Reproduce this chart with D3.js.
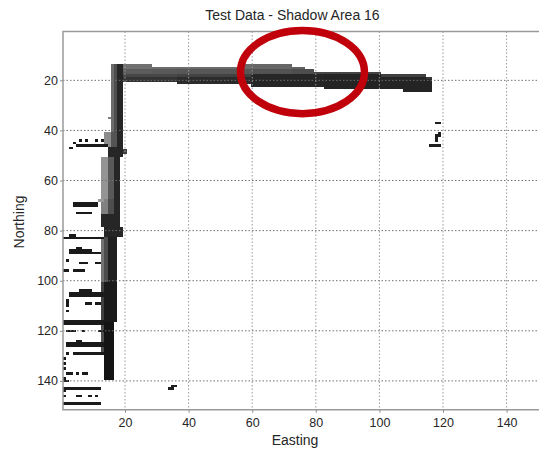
<!DOCTYPE html>
<html><head><meta charset="utf-8">
<script src="https://cdn.jsdelivr.net/npm/d3@7/dist/d3.min.js"></script>
<style>body{margin:0;background:#fff;overflow:hidden}</style>
</head><body><svg id="c" width="539" height="455"></svg>
<script>
// ---- data ----
const title = "Test Data - Shadow Area 16";
const xLabel = "Easting";
const yLabel = "Northing";
const xTicks = [20,40,60,80,100,120,140];
const yTicks = [20,40,60,80,100,120,140];
const xDomain = [0.5,150.5];
const yDomain = [0.5,151.5];
// runs: [rowStart,rowEnd,colStart,colEnd,intensity(0 black..1 white)]
const topBarRuns = [
 [14,15,16,28,0.44],[16,17,16,28,0.36],[18,18,16,28,0.28],[19,20,16,28,0.2],
 [15,15,29,36,0.42],[16,17,29,36,0.35],[18,18,29,36,0.28],[19,20,29,36,0.2],
 [15,15,37,55,0.42],[16,17,37,55,0.34],[18,18,37,55,0.26],[19,21,37,55,0.17],
 [14,15,56,59,0.42],[16,17,56,59,0.34],[18,18,56,59,0.25],[19,21,56,59,0.17],
 [14,15,60,72,0.40],[16,17,60,72,0.32],[18,22,60,72,0.15],
 [15,15,73,76,0.38],[16,17,73,76,0.30],[18,22,73,76,0.15],
 [16,17,77,79,0.30],[18,22,77,79,0.15],
 [17,17,80,82,0.28],[18,22,80,82,0.15],
 [17,17,83,100,0.27],[18,23,83,100,0.14],
 [18,18,101,107,0.25],[19,23,101,107,0.14],
 [18,18,108,114,0.25],[19,24,108,114,0.14],
 [19,19,115,116,0.22],[20,24,115,116,0.14]
];
const verticalBarRuns = [
 [14,40,16,16,0.42],[14,40,17,17,0.3],[14,40,18,19,0.15],[35,35,15,15,0.5],
 [41,46,14,15,0.55],[41,46,16,17,0.33],[41,46,18,19,0.15],
 [47,50,15,19,0.15],[48,49,20,20,0.25],
 [51,67,13,14,0.58],[51,67,15,16,0.35],[51,67,17,18,0.15],
 [68,73,13,14,0.5],[68,73,15,16,0.3],[68,73,17,18,0.15],
 [74,78,13,18,0.15],
 [79,82,14,19,0.15],
 [83,100,13,13,0.45],[83,100,14,14,0.3],[83,100,15,17,0.12],
 [101,116,13,13,0.25],[101,116,14,17,0.1],
 [117,129,13,13,0.3],[117,129,14,16,0.08],
 [130,139,14,16,0.08]
];
const scatterRuns = [
 [44,44,6,6,0.1],[44,44,8,8,0.1],[44,44,11,11,0.1],[44,44,13,13,0.1],
 [45,45,4,4,0.1],[46,46,5,14,0.1],[47,47,3,3,0.1],
 [69,70,4,11,0.1],[68,68,12,13,0.6],
 [73,73,5,8,0.1],[73,73,9,9,0.1],
 [82,82,3,4,0.1],[83,83,1,13,0.1],
 [87,87,5,6,0.1],[88,88,3,9,0.1],[89,89,3,12,0.1],
 [92,92,2,2,0.1],[93,93,6,8,0.1],[93,93,11,12,0.1],
 [96,96,1,2,0.1],[96,96,4,7,0.1],
 [104,104,6,9,0.1],[105,106,3,13,0.1],
 [108,110,2,2,0.1],[109,109,8,9,0.1],[109,109,11,12,0.1],
 [112,112,2,2,0.1],
 [116,117,1,13,0.1],
 [120,120,2,4,0.1],[120,120,7,7,0.1],[120,120,12,13,0.1],
 [124,124,5,6,0.1],[125,126,2,13,0.1],
 [129,129,2,2,0.1],[129,129,4,13,0.1],
 [131,131,1,1,0.1],[133,133,1,1,0.1],[135,135,1,1,0.1],
 [137,137,2,3,0.1],[137,137,5,5,0.1],[137,137,7,8,0.1],
 [139,139,1,1,0.1],[140,140,1,2,0.1],
 [143,143,1,12,0.1],[144,144,1,1,0.1],
 [146,146,1,1,0.1],[146,146,5,6,0.1],[146,146,9,9,0.1],[146,146,11,11,0.1],
 [149,149,1,12,0.1],
 [142,142,35,36,0.12],[143,143,34,35,0.12],
 [37,37,118,119,0.12],[41,41,119,119,0.12],[42,42,118,119,0.12],[43,44,118,118,0.12],[46,46,116,119,0.12]
];
// annotation ellipse [cx, cy, rx, ry] in data units
const ellipse = [75.8,16.7,19.5,16.6];

// ---- drawing ----
const svg = d3.select("#c");
const L = 63, R = 540, T = 31.5, B = 409.7;
const x = d3.scaleLinear().domain(xDomain).range([L,R]);
const y = d3.scaleLinear().domain(yDomain).range([T,B]);
const gray = v => { const g = Math.round(v*255); return `rgb(${g},${g},${g})`; };

svg.append("rect").attr("x",0).attr("y",0).attr("width",539).attr("height",455).attr("fill","#fff");
svg.append("defs").append("clipPath").attr("id","clip")
  .append("rect").attr("x",L).attr("y",T).attr("width",R-L).attr("height",B-T);
const plot = svg.append("g").attr("clip-path","url(#clip)");

const allRuns = topBarRuns.concat(verticalBarRuns, scatterRuns);
plot.selectAll("rect.cell").data(allRuns).join("rect")
  .attr("class","cell")
  .attr("x", d => x(d[2]-0.5))
  .attr("width", d => x(d[3]+0.5)-x(d[2]-0.5))
  .attr("y", d => y(d[0]-0.5))
  .attr("height", d => y(d[1]+0.5)-y(d[0]-0.5))
  .attr("fill", d => gray(d[4]))
  .attr("shape-rendering","crispEdges");

// grid
plot.selectAll("line.vg").data(xTicks).join("line")
  .attr("x1",d=>x(d)).attr("x2",d=>x(d)).attr("y1",T).attr("y2",B)
  .attr("stroke","#999").attr("stroke-width",1).attr("stroke-dasharray","1.5,2");
plot.selectAll("line.hg").data(yTicks).join("line")
  .attr("y1",d=>y(d)).attr("y2",d=>y(d)).attr("x1",L).attr("x2",R)
  .attr("stroke","#707070").attr("stroke-width",1).attr("stroke-dasharray","1.5,2");

// axes
const ax = svg.append("g").attr("transform",`translate(0,${B})`)
  .call(d3.axisBottom(x).tickValues(xTicks).tickSize(3).tickSizeOuter(0).tickPadding(5));
const ay = svg.append("g").attr("transform",`translate(${L},0)`)
  .call(d3.axisLeft(y).tickValues(yTicks).tickSize(3).tickSizeOuter(0).tickPadding(2));
[ax,ay].forEach(g=>{
  g.select(".domain").remove();
  g.selectAll("line").attr("stroke","#8a8a8a");
  g.selectAll("text").attr("fill","#262626").style("font-family","Liberation Sans, Arial, sans-serif").style("font-size","12.5px");
});
// box
svg.append("path").attr("d",`M${R},${T}H${L}V${B}H${R}`).attr("fill","none")
  .attr("stroke","#9a9a9a").attr("stroke-width",1.5);

// ellipse annotation
svg.append("ellipse")
  .attr("cx",x(ellipse[0])).attr("cy",y(ellipse[1]))
  .attr("rx",x(ellipse[0]+ellipse[2])-x(ellipse[0]))
  .attr("ry",y(ellipse[1]+ellipse[3])-y(ellipse[1]))
  .attr("fill","none").attr("stroke","#c0000a").attr("stroke-width",7.5);

// labels
const font = "Liberation Sans, Arial, sans-serif";
svg.append("text").attr("x",292.5).attr("y",19.5).attr("text-anchor","middle")
  .style("font-family",font).style("font-size","14px").attr("fill","#262626").text(title);
svg.append("text").attr("x",295).attr("y",445).attr("text-anchor","middle")
  .style("font-family",font).style("font-size","14px").attr("fill","#262626").text(xLabel);
svg.append("text").attr("transform","translate(24,222) rotate(-90)").attr("text-anchor","middle")
  .style("font-family",font).style("font-size","14px").attr("fill","#262626").text(yLabel);
</script></body></html>
